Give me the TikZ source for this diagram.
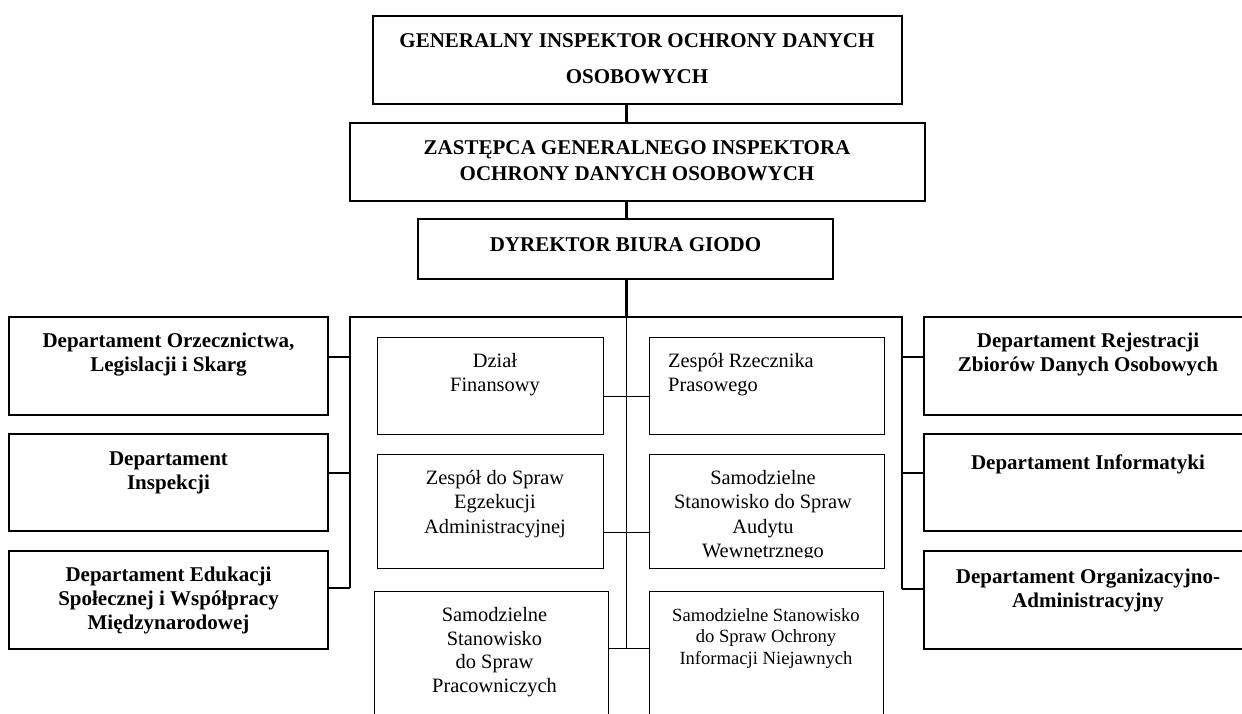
\documentclass[tikz,border=0pt]{standalone}
\usepackage{fontspec}
\setmainfont{Liberation Serif}
\begin{document}
\begin{tikzpicture}[x=1pt,y=-1pt,
  thickbox/.style={draw, line width=2.4pt, inner sep=0pt, outer sep=0pt, anchor=north west},
  thinbox/.style={draw, line width=1pt, inner sep=0pt, outer sep=0pt, anchor=north west},
  thickline/.style={line width=2.4pt},
  thinline/.style={line width=1pt},
  boldtxt/.style={font=\fontsize{21}{24}\selectfont\bfseries, align=center, anchor=north, inner sep=0pt},
  regtxt/.style={font=\fontsize{20.4}{24.5}\selectfont, align=center, anchor=north, inner sep=0pt},
  smalltxt/.style={font=\fontsize{18.6}{21.7}\selectfont, align=center, anchor=north, inner sep=0pt}]
\clip (0,0) rectangle (1242,713);
% top boxes
\node[thickbox, minimum width=529pt, minimum height=88pt] (g) at (373,16) {};
\node[thickbox, minimum width=575pt, minimum height=78pt] (z) at (350,123) {};
\node[thickbox, minimum width=415pt, minimum height=60pt] (d) at (418,219) {};
% left departments
\node[thickbox, minimum width=319pt, minimum height=98pt] (l1) at (9,317) {};
\node[thickbox, minimum width=319pt, minimum height=97pt] (l2) at (9,434) {};
\node[thickbox, minimum width=319pt, minimum height=98pt] (l3) at (9,551) {};
% right departments
\node[thickbox, minimum width=328pt, minimum height=98pt] (r1) at (924,317) {};
\node[thickbox, minimum width=328pt, minimum height=97pt] (r2) at (924,434) {};
\node[thickbox, minimum width=328pt, minimum height=98pt] (r3) at (924,551) {};
% middle units
\node[thinbox, minimum width=226pt, minimum height=97pt] (m1) at (377,337) {};
\node[thinbox, minimum width=235pt, minimum height=97pt] (m2) at (649,337) {};
\node[thinbox, minimum width=226pt, minimum height=114pt] (m3) at (377,454) {};
\node[thinbox, minimum width=235pt, minimum height=114pt] (m4) at (649,454) {};
\node[thinbox, minimum width=234pt, minimum height=150pt] (m5) at (374,591) {};
\node[thinbox, minimum width=234pt, minimum height=150pt] (m6) at (649,591) {};
% junction coordinates
\coordinate (top) at (626.5,317);
\coordinate (lb) at (350,317);
\coordinate (rb) at (902,317);
\coordinate (lc1) at (350,357);
\coordinate (lc2) at (350,473);
\coordinate (lc3) at (350,588);
\coordinate (rc1) at (902,357);
\coordinate (rc2) at (902,473);
\coordinate (rc3) at (902,589);
\coordinate (c1) at (626.5,396);
\coordinate (c2) at (626.5,532);
\coordinate (c3) at (626.5,648);
% connectors
\draw[thickline] (g.south -| top) -- (z.north -| top);
\draw[thickline] (z.south -| top) -- (d.north -| top);
\draw[thickline] (d.south -| top) -- (top);
\draw[thickline] (lc3) -- (lb) -- (rb) -- (rc3);
\draw[thickline] (lc1) -- (lc1 -| l1.east);
\draw[thickline] (lc2) -- (lc2 -| l2.east);
\draw[thickline] (lc3) -- (lc3 -| l3.east);
\draw[thickline] (rc1) -- (rc1 -| r1.west);
\draw[thickline] (rc2) -- (rc2 -| r2.west);
\draw[thickline] (rc3) -- (rc3 -| r3.west);
\draw[thinline] (top) -- (c3);
\draw[thinline] (c1 -| m1.east) -- (c1 -| m2.west);
\draw[thinline] (c2 -| m3.east) -- (c2 -| m4.west);
\draw[thinline] (c3 -| m5.east) -- (c3 -| m6.west);
% texts
\node[boldtxt, font=\fontsize{21}{36}\selectfont\bfseries] (tg) at (637,33) {GENERALNY INSPEKTOR OCHRONY DANYCH\\OSOBOWYCH};
\node[boldtxt, font=\fontsize{21}{26}\selectfont\bfseries] (tz) at (637,140) {ZASTĘPCA GENERALNEGO INSPEKTORA\\OCHRONY DANYCH OSOBOWYCH};
\node[boldtxt] (td) at (625.5,237) {DYREKTOR BIURA GIODO};
\node[boldtxt] (tl1) at (168.5,333) {Departament Orzecznictwa,\\Legislacji i Skarg};
\node[boldtxt] (tl2) at (168.5,452) {Departament\\Inspekcji};
\node[boldtxt] (tl3) at (168.5,567) {Departament Edukacji\\Społecznej i Współpracy\\Międzynarodowej};
\node[boldtxt] (tr1) at (1088,333) {Departament Rejestracji\\Zbiorów Danych Osobowych};
\node[boldtxt] (tr2) at (1088,455) {Departament Informatyki};
\node[boldtxt] (tr3) at (1088,569) {Departament Organizacyjno-\\Administracyjny};
\node[regtxt] (tm1) at (495,353) {Dział\\Finansowy};
\node[regtxt, align=left, anchor=north west] (tm2) at (668,353) {Zespół Rzecznika\\Prasowego};
\node[regtxt] (tm3) at (495,470) {Zespół do Spraw\\Egzekucji\\Administracyjnej};
\begin{scope}
\clip (649,454) rectangle (884,557);
\node[regtxt] (tm4) at (763,470) {Samodzielne\\Stanowisko do Spraw\\Audytu\\Wewnętrznego};
\end{scope}
\node[regtxt, font=\fontsize{20.4}{23.7}\selectfont] (tm5) at (494.5,607) {Samodzielne\\Stanowisko\\do Spraw\\Pracowniczych};
\node[smalltxt] (tm6) at (766,608) {Samodzielne Stanowisko\\do Spraw Ochrony\\Informacji Niejawnych};
\end{tikzpicture}
\end{document}
